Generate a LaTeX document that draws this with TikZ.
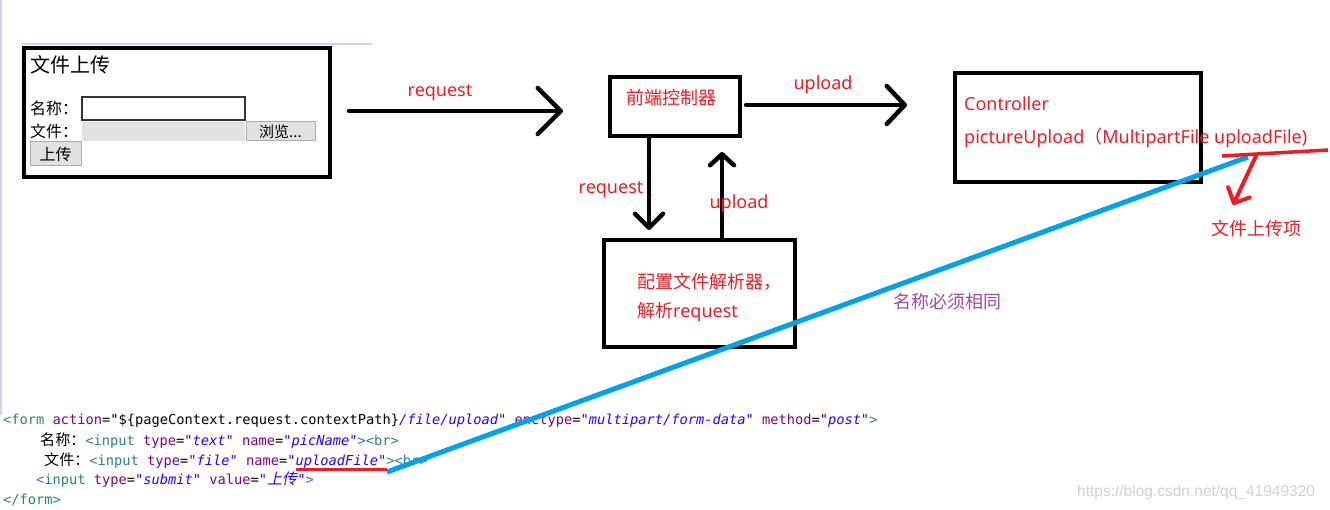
\documentclass[tikz,border=0pt]{standalone}
\usepackage{fontspec}
\setmainfont{Noto Sans}
\setmonofont{DejaVu Sans Mono}
\newfontfamily\cjk{Noto Sans CJK SC}
\newfontfamily\cjkc{Noto Sans CJK SC}[Scale=1.1]
\newfontfamily\cjksl{Noto Sans CJK SC}[Scale=1.1,FakeSlant=0.2]
\newfontfamily\wmfont{Liberation Sans}
\usetikzlibrary{arrows.meta}

\definecolor{paintred}{RGB}{237,28,36}
\definecolor{paintblue}{RGB}{0,162,232}
\definecolor{paintpurple}{RGB}{163,73,164}
\definecolor{pagerule}{RGB}{200,216,234}
\definecolor{btnfill}{RGB}{225,225,225}
\definecolor{btnborder}{RGB}{173,173,173}
\definecolor{codetag}{RGB}{47,127,127}
\definecolor{codeattr}{RGB}{127,0,127}
\definecolor{codeval}{RGB}{42,0,255}

% code colouring
\newcommand\ctag[1]{\textcolor{codetag}{#1}}
\newcommand\cattr[1]{\textcolor{codeattr}{#1}}
\newcommand\cval[1]{\textcolor{codeval}{\itshape #1}}

\begin{document}
\begin{tikzpicture}[x=1pt, y=-1pt,
    box/.style={draw, line width=4.5pt, inner sep=0pt},
    lbl/.style={text=paintred, inner sep=0pt, font=\fontsize{18}{29}\selectfont},
    arr/.style={line width=4.5pt, line cap=round},
    formtxt/.style={anchor=west, inner sep=0pt, font=\cjk\fontsize{16}{18}\selectfont},
    btn/.style={draw=btnborder, fill=btnfill, line width=1pt, inner sep=0pt},
    code/.style={anchor=west, inner sep=0pt, font=\ttfamily\fontsize{13.7}{16}\selectfont}]
    \useasboundingbox (0,0) rectangle (1330,510);

    % Draw the page rules of the screenshot
    \draw[pagerule, line width=2pt] (1,0) -- (1,415);
    \draw[pagerule, line width=1.5pt] (22,44) -- (372,44);

    % Draw the upload form
    \node[box, minimum width=306pt, minimum height=129pt] (form) at (177,112.5) {};
    \node[formtxt, font=\cjk\fontsize{20}{22}\selectfont] (formTitle) at (30,65) {文件上传};
    \node[formtxt] (nameLbl) at (30,108) {名称：};
    \node[draw=black!80, line width=1.2pt, minimum width=163pt, minimum height=23pt] (nameField) at (163.5,108.5) {};
    \node[formtxt] (fileLbl) at (30,131) {文件：};
    \node[fill=btnfill!95!white, minimum width=163pt, minimum height=19pt, inner sep=0pt] (fileField) at (163.5,131.5) {};
    \node[btn, minimum width=69pt, minimum height=19pt, font=\cjk\fontsize{15}{17}\selectfont] (browse) at (280.5,131.5) {浏览...};
    \node[btn, minimum width=51pt, minimum height=24pt, font=\cjk\fontsize{16}{18}\selectfont] (submit) at (55.5,154) {上传};

    % Draw the front controller and the resolver
    \node[box, minimum width=130pt, minimum height=59pt] (front) at (675,106.5) {};
    \node[lbl, anchor=west] (frontTxt) at (626,98) {\cjk 前端控制器};
    \node[box, minimum width=191pt, minimum height=107pt] (parser) at (699.5,293.5) {};
    \node[lbl, anchor=west, align=left] (parserTxt) at (637,298) {{\cjk 配置文件解析器，}\\{\cjk 解析}request};

    % Draw the controller
    \node[box, minimum width=246pt, minimum height=109pt] (ctrl) at (1078,127.5) {};
    \node[lbl, anchor=west] (ctrlName) at (964,104) {Controller};
    \node[lbl, anchor=west] (ctrlSig) at (964,138) {pictureUpload{\cjk （}MultipartFile uploadFile)};

    % Draw the arrows between the parts
    \coordinate (reqA) at (349,111);
    \coordinate (reqB) at (563,111);
    \coordinate (upA) at (746,105);
    \coordinate (upB) at (907,105);
    \coordinate (downA) at (649,138);
    \coordinate (downB) at (649,230);
    \coordinate (backA) at (722,238);
    \coordinate (backB) at (722,152);
    \draw[arr, -{Straight Barb[length=23pt, width=46pt, round]}] (reqA) -- (reqB);
    \draw[arr, -{Straight Barb[length=18pt, width=38pt, round]}] (upA) -- (upB);
    \draw[arr, -{Straight Barb[length=14pt, width=28pt, round]}] (downA) -- (downB);
    \draw[arr, -{Straight Barb[length=11pt, width=24pt, round]}] (backA) -- (backB);
    \node[lbl] (reqLbl) at (440,93) {request};
    \node[lbl] (upLbl) at (823,85) {upload};
    \node[lbl] (downLbl) at (611,190) {request};
    \node[lbl] (backLbl) at (739,204) {upload};

    % Draw the form code
    \node[code] (code1) at (3,421) {\ctag{<form} \cattr{action}="\$\{pageContext.request.contextPath\}\cval{/file/upload"} \cattr{enctype}=\cval{"multipart/form-data"} \cattr{method}=\cval{"post"}\ctag{>}};
    \node[code] (code2) at (40,441) {{\cjkc 名称：}\ctag{<input} \cattr{type}=\cval{"text"} \cattr{name}=\cval{"picName"}\ctag{><br>}};
    \node[code] (code3) at (44,461) {{\cjkc 文件：}\ctag{<input} \cattr{type}=\cval{"file"} \cattr{name}=\cval{"uploadFile"}\ctag{><br>}};
    \node[code] (code4) at (36,480) {\ctag{<input} \cattr{type}=\cval{"submit"} \cattr{value}=\cval{"{\cjksl 上传}"}\ctag{>}};
    \node[code] (code5) at (3,500) {\ctag{</form>}};

    % Draw the marks linking the two names
    \coordinate (nameCode) at (387,472);
    \coordinate (nameCtrl) at (1248,157);
    \draw[paintblue, line width=5pt] (nameCode) -- (nameCtrl);
    \coordinate (ulA) at (296,469);
    \coordinate (ulEnd) at (387,469);
    \draw[paintred, line width=3pt] (ulA) -- (ulEnd);
    \coordinate (ulB) at (1222,156);
    \coordinate (ulC) at (1328,150);
    \draw[paintred, line width=3.5pt] (ulB) -- (ulC);
    \coordinate (itemA) at (1256,156);
    \coordinate (itemB) at (1233,205);
    \draw[paintred, line width=4pt, line cap=round, -{Straight Barb[length=12pt, width=24pt, round]}] (itemA) -- (itemB);
    \node[lbl] (itemLbl) at (1256,229) {\cjk 文件上传项};
    \node[lbl, text=paintpurple, anchor=west] (sameLbl) at (893,302) {\cjk 名称必须相同};

    % Draw the watermark
    \node[anchor=west, inner sep=0pt, text=black!18, font=\wmfont\fontsize{15.5}{18}\selectfont] (mark) at (1077,492) {https://blog.csdn.net/qq\_41949320};
\end{tikzpicture}
\end{document}
